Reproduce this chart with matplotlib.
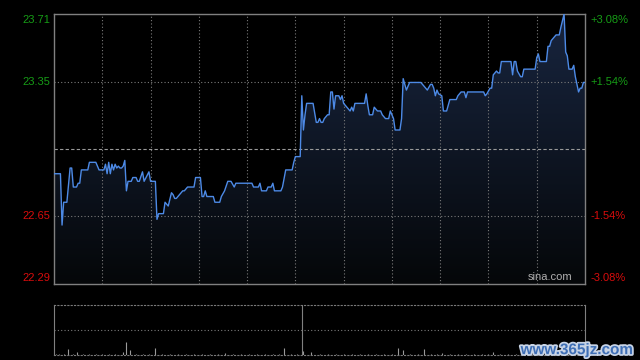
import matplotlib
matplotlib.use("Agg")
import numpy as np
import matplotlib.pyplot as plt
import matplotlib.patheffects as pe
from matplotlib.colors import LinearSegmentedColormap

# intraday minutes since open (0..330, lunch break folded out) and price
minutes = [0, 4, 5, 6, 8, 10, 11, 12, 14, 15, 16, 17, 21, 22, 26, 28, 31, 32, 33, 34, 35,
           36, 37, 38, 39, 40, 41, 42, 43, 44, 45, 46, 48, 49, 51, 52, 53, 55, 56, 59, 60,
           63, 64, 65, 66, 68, 69, 71, 73, 74, 75, 76, 78, 80, 81, 83, 87, 88, 91, 92, 93,
           94, 95, 99, 100, 103, 104, 106, 108, 110, 112, 113, 123, 124, 127, 128, 129, 132,
           133, 135, 136, 137, 141, 142, 144, 148, 149, 150, 153,
           154, 155, 156, 157, 161, 163, 164, 165, 166, 167, 168, 170, 171, 172, 173, 174,
           175, 177, 178, 179, 180, 181, 183, 184, 185, 186, 187, 193, 194, 195, 196, 198,
           199, 201, 203, 204, 206, 208, 209, 211, 212, 215, 216, 217, 219, 221, 228, 229,
           231, 232, 234, 235, 236, 237, 238, 239, 241, 242, 244, 246, 250, 251, 253, 255,
           256, 257, 267, 268, 269, 271, 272, 273, 275, 276, 277, 278, 284, 285, 286, 287,
           288, 290, 291, 292, 299, 300, 301, 302, 306, 307, 308, 309, 310, 312, 314, 315,
           317, 318, 319, 320, 322, 323, 324, 326, 327, 328, 329, 330]
prices = [22.87, 22.87, 22.60, 22.72, 22.72, 22.90, 22.90, 22.80, 22.80, 22.82, 22.82, 22.89,
          22.89, 22.93, 22.93, 22.89, 22.89, 22.92, 22.87, 22.93, 22.87, 22.92, 22.89, 22.92,
          22.90, 22.91, 22.90, 22.90, 22.91, 22.94, 22.78, 22.83, 22.83, 22.85, 22.85, 22.83,
          22.83, 22.88, 22.83, 22.88, 22.83, 22.83, 22.63, 22.66, 22.66, 22.66, 22.72, 22.70,
          22.77, 22.76, 22.74, 22.74, 22.76, 22.78, 22.78, 22.80, 22.80, 22.85, 22.85, 22.75,
          22.75, 22.78, 22.75, 22.75, 22.72, 22.72, 22.75, 22.78, 22.83, 22.83, 22.80, 22.82,
          22.82, 22.80, 22.80, 22.82, 22.78, 22.78, 22.80, 22.80, 22.82, 22.78, 22.78, 22.80,
          22.89, 22.89, 22.93, 22.96, 22.96,
          23.28, 23.10, 23.18, 23.24, 23.24, 23.14, 23.14, 23.16, 23.14, 23.14, 23.16, 23.18,
          23.18, 23.30, 23.30, 23.21, 23.28, 23.28, 23.26, 23.28, 23.24, 23.23, 23.21, 23.20,
          23.22, 23.20, 23.24, 23.24, 23.29, 23.23, 23.18, 23.18, 23.22, 23.20, 23.20, 23.18,
          23.16, 23.16, 23.20, 23.16, 23.10, 23.10, 23.16, 23.37, 23.31, 23.35, 23.35, 23.34,
          23.32, 23.31, 23.34, 23.34, 23.32, 23.28, 23.31, 23.29, 23.28, 23.20, 23.20, 23.26,
          23.26, 23.28, 23.30, 23.30, 23.27, 23.30, 23.30, 23.28, 23.29, 23.32, 23.32, 23.39,
          23.41, 23.40, 23.40, 23.46, 23.46, 23.39, 23.46, 23.46, 23.41, 23.38, 23.38, 23.42,
          23.42, 23.48, 23.50, 23.46, 23.46, 23.54, 23.54, 23.57, 23.58, 23.60, 23.60, 23.64,
          23.71, 23.51, 23.49, 23.42, 23.42, 23.44, 23.38, 23.30, 23.32, 23.32, 23.35, 23.35]

prev_close = 23.00
left_labels = ["23.71", "23.35", "22.65", "22.29"]
left_values = [23.71, 23.35, 22.65, 22.29]
right_labels = ["+3.08%", "+1.54%", "-1.54%", "-3.08%"]

vol_minutes = [1, 3, 6, 9, 12, 14, 18, 22, 26, 30, 34, 38, 43, 45, 47, 51, 55, 59, 63, 67,
               72, 77, 82, 87, 92, 97, 102, 106, 111, 116, 121, 126, 131, 136, 140, 143,
               147, 151, 155, 160, 165, 170, 175, 180, 185, 190, 195, 200, 205, 210, 214,
               217, 221, 226, 230, 234, 238, 241, 246, 251, 256, 261, 266, 270, 273, 277,
               282, 287, 292, 297, 302, 307, 312, 317, 322, 327]
vol_values = [3, 2, 3, 12, 2, 6, 2, 3, 2, 2, 3, 2, 6, 26, 10, 2, 3, 2, 14, 2,
              2, 3, 2, 2, 3, 2, 2, 4, 2, 2, 3, 2, 2, 3, 2, 14,
              2, 3, 8, 6, 2, 3, 2, 2, 3, 2, 2, 3, 2, 2, 14,
              10, 3, 2, 12, 2, 3, 4, 2, 3, 2, 2, 3, 2, 6, 2,
              3, 2, 2, 3, 2, 2, 3, 2, 2, 3]

lo, hi = 22.29, 23.71
grid_c = "#7a7a7a"
green = "#169c16"
red = "#d80c0c"

fig = plt.figure(figsize=(6.4, 3.6), dpi=100, facecolor="black")
ax = fig.add_axes([54 / 640, 1 - 284 / 360, 531 / 640, 270 / 360], facecolor="black")
axv = fig.add_axes([54 / 640, 1 - 355 / 360, 531 / 640, 50 / 360], facecolor="black")

# gradient fill under the price line
poly = ax.fill_between(minutes, prices, lo, color="none", lw=0)
cmap = LinearSegmentedColormap.from_list("bg", ["#050709", "#18253f"])
grad = np.linspace(0, 1, 256).reshape(-1, 1)
im = ax.imshow(grad, extent=[0, 330, lo, hi], origin="lower", aspect="auto", cmap=cmap, zorder=1)
im.set_clip_path(poly.get_paths()[0], transform=ax.transData)

for m in range(30, 330, 30):
    ax.axvline(m, color=grid_c, lw=0.8, ls=(0, (1, 2)), zorder=2)
for v in [23.35, 22.65]:
    ax.axhline(v, color=grid_c, lw=0.8, ls=(0, (1, 2)), zorder=2)
ax.axhline(prev_close, color="#9a9a9a", lw=0.8, ls=(0, (3, 2)), zorder=2)

ax.plot(minutes, prices, color="#4d8ae6", lw=1.0, zorder=3)

ax.set_xlim(0, 330)
ax.set_ylim(lo, hi)
ax.set_xticks([])
ax.set_yticks([])
for s in ax.spines.values():
    s.set_color("#808080")
    s.set_linewidth(1.0)

# top/bottom labels are nudged inside the panel
nudge = {23.71: -4.3, 22.29: 4.3}
for lab, v, rl in zip(left_labels, left_values, right_labels):
    c = green if v > prev_close else red
    dy = nudge.get(v, 0)
    ax.annotate(lab, (0, v), xytext=(-3, dy), textcoords="offset points", color=c,
                fontsize=8, family="Liberation Sans", ha="right", va="center",
                annotation_clip=False)
    ax.annotate(rl, (330, v), xytext=(4, dy), textcoords="offset points", color=c,
                fontsize=8, family="Liberation Sans", ha="left", va="center",
                annotation_clip=False)

ax.annotate("sina.com", (330, lo), xytext=(-9, 5), textcoords="offset points",
            color="#b0b0b0", fontsize=8, family="Liberation Sans", ha="right", va="center")

# volume panel
axv.vlines(vol_minutes, 0, vol_values, color="#9a9a9a", lw=0.8)
axv.axhline(50, color=grid_c, lw=0.8, ls=(0, (1, 2)))
axv.axvline(154, color="#808080", lw=0.8)
axv.set_xlim(0, 330)
axv.set_ylim(0, 100)
axv.set_xticks([])
axv.set_yticks([])
for k in ["left", "right"]:
    axv.spines[k].set_color("#808080")
for k in ["top", "bottom"]:
    axv.spines[k].set_color(grid_c)
    axv.spines[k].set_linestyle((0, (1, 2)))

fig.text(633 / 640, 0.008, "www.365jz.com", color="#3f6fb5", fontsize=11, fontweight="bold",
         family="Liberation Sans", ha="right", va="bottom",
         path_effects=[pe.withStroke(linewidth=2.5, foreground="#c8d4e6")])

fig.savefig("out.png", dpi=100, facecolor="black")
